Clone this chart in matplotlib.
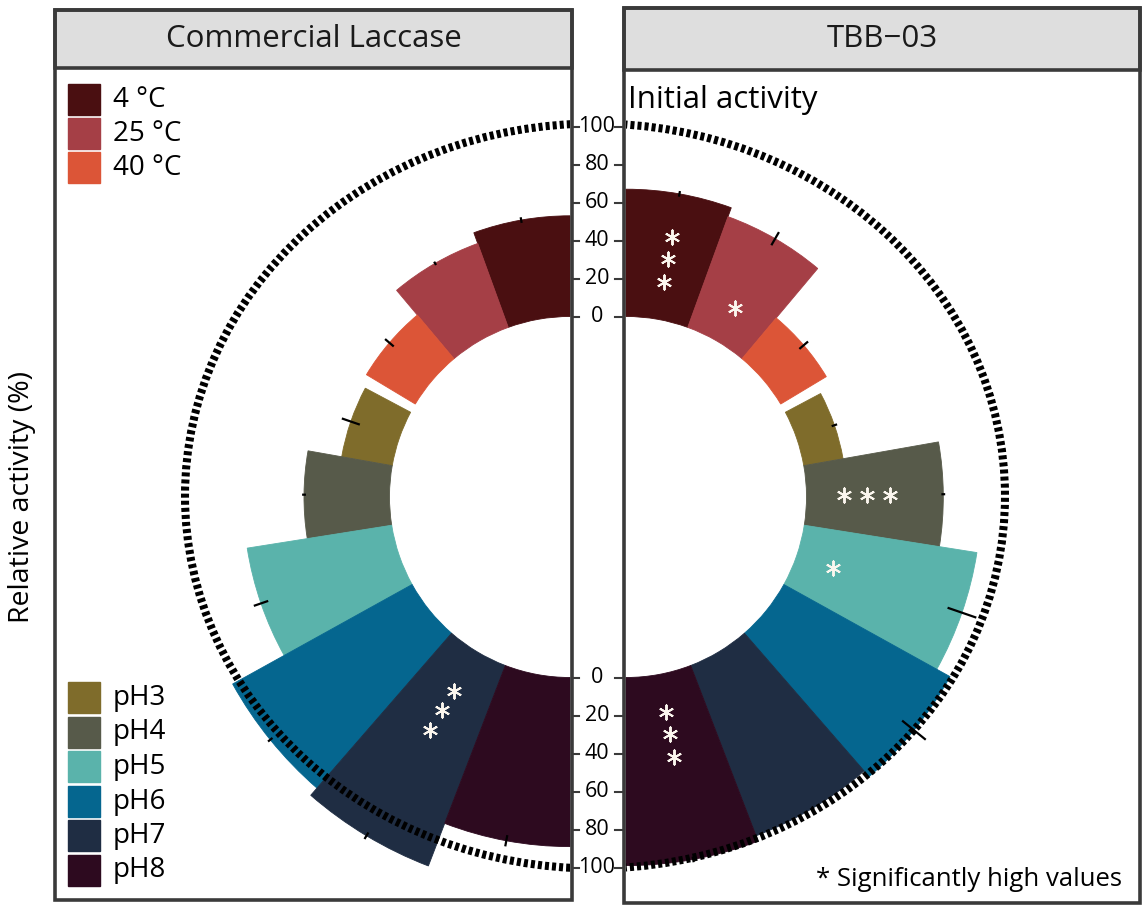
import matplotlib
matplotlib.use("Agg")
import numpy as np
import matplotlib.pyplot as plt
from matplotlib.patches import Rectangle, Ellipse

plt.rcParams['font.family'] = ['Open Sans', 'DejaVu Sans']

# === data ===
labels = ["4 °C", "25 °C", "40 °C", "pH3", "pH4", "pH5", "pH6", "pH7", "pH8"]
colors = ["#4a0f11", "#a53f46", "#dc5537", "#7f6c2b", "#575a4a",
          "#5ab3ab", "#05668f", "#1f2d43", "#2d0a1f"]
commercial = [53, 47, 30, 27, 45, 77, 108, 113, 89]
commercial_sd = [1.5, 1, 3, 5, 1, 4, 1.5, 2, 3]
commercial_stars = [0, 0, 0, 0, 0, 0, 0, 3, 0]
tbb03 = [67, 62, 28, 21, 72, 92, 100, 96, 99]
tbb03_sd = [1.5, 4, 3, 1.5, 1, 8, 8, 1, 1.5]
tbb03_stars = [3, 1, 0, 0, 3, 1, 0, 0, 3]
radial_ticks = [0, 20, 40, 60, 80, 100]

# === layout (pixels of the 1147x910 picture) ===
W, H = 1147, 910
bar_start = [0, 20, 40, 62, 80, 99, 119, 139, 159]   # degrees from top
bar_end = [20, 40, 59, 80, 99, 119, 139, 159, 180]
hole = 95       # inner radius in data units
scale = 1.9     # px per data unit
rmax = 215
cy = 497
frame_col = "#3a3a3a"

fig = plt.figure(figsize=(W / 100, H / 100), dpi=100)


def polar_panel(cx, direction, values, sd, stars, star_r0):
    R = rmax * scale
    ax = fig.add_axes([(cx - R) / W, 1 - (cy + R) / H, 2 * R / W, 2 * R / H],
                      projection="polar")
    ax.set_theta_zero_location("N")
    ax.set_theta_direction(direction)
    start = np.array(bar_start, dtype=float)
    end = np.array(bar_end, dtype=float)
    theta = np.deg2rad((start + end) / 2)
    width = np.deg2rad(end - start)
    vals = np.array(values, dtype=float)
    ax.bar(theta, vals, width=width, bottom=hole, color=colors,
           edgecolor=colors, linewidth=0.6, zorder=2)
    ax.errorbar(theta, hole + vals, yerr=sd, fmt="none", ecolor="black",
                elinewidth=1.6, capsize=0, zorder=3)
    for i, n in enumerate(stars):
        for k in range(n):
            ax.plot(theta[i], hole + star_r0 + 12 * k, linestyle="none",
                    marker=(6, 2, 0), ms=11, mew=1.4, color="#fbf6ee", zorder=4)
    ax.set_ylim(0, rmax)
    ax.set_axis_off()
    return ax


polar_panel(570, 1, commercial, commercial_sd, commercial_stars, 24)
polar_panel(626, -1, tbb03, tbb03_sd, tbb03_stars, 20)

# overlay in pixel coordinates for frames, legend, ticks, texts
ov = fig.add_axes([0, 0, 1, 1], zorder=10)
ov.set_xlim(0, W)
ov.set_ylim(H, 0)
ov.axis("off")
ov.patch.set_alpha(0)

panels = [(55, 10, 572, 900, 68, "Commercial Laccase"),
          (624, 8, 1140, 903, 70, "TBB\u221203")]
for x0, y0, x1, y1, hb, title in panels:
    ov.add_patch(Rectangle((x0, y0), x1 - x0, hb - y0, fc="#dedede",
                           ec=frame_col, lw=2.6))
    ov.add_patch(Rectangle((x0, y0), x1 - x0, y1 - y0, fill=False,
                           ec=frame_col, lw=2.6))
    ov.text((x0 + x1) / 2, (y0 + hb) / 2, title, ha="center", va="center",
            fontsize=22.5, color="#1a1a1a")
    # dotted 100 % reference ring, clipped to the panel
    ring = Ellipse((595, 496), 820, 745, fill=False, ec="black", lw=5.8,
                   ls=(0, (0.5, 0.38)), zorder=5)
    ov.add_patch(ring)
    clip = Rectangle((x0 + 2, y0), x1 - x0 - 4, y1 - y0, transform=ov.transData)
    ring.set_clip_path(clip)

# radial axis between the panels
for v in radial_ticks:
    for y in (cy - (hole + v) * scale, cy + (hole + v) * scale):
        ov.text(597, y, str(v), ha="center", va="center", fontsize=15.5)
        ov.plot([573, 579], [y, y], color=frame_col, lw=1.5)
        ov.plot([615, 623], [y, y], color=frame_col, lw=1.5)

# legends
for i in range(3):
    y = 84 + 34 * i
    ov.add_patch(Rectangle((68, y), 32, 31, color=colors[i]))
    ov.text(113, y + 16, labels[i], ha="left", va="center", fontsize=20)
for i in range(3, 9):
    y = 682 + 34.5 * (i - 3)
    ov.add_patch(Rectangle((68, y), 32, 31, color=colors[i]))
    ov.text(113, y + 16, labels[i], ha="left", va="center", fontsize=20)

ov.text(628, 100, "Initial activity", ha="left", va="center", fontsize=22.5)
ov.text(1122, 880, "* Significantly high values", ha="right", va="center",
        fontsize=18.5)
ov.text(22, 497, "Relative activity (%)", ha="center", va="center",
        rotation=90, fontsize=20.5)

fig.savefig("out.png", dpi=100)
